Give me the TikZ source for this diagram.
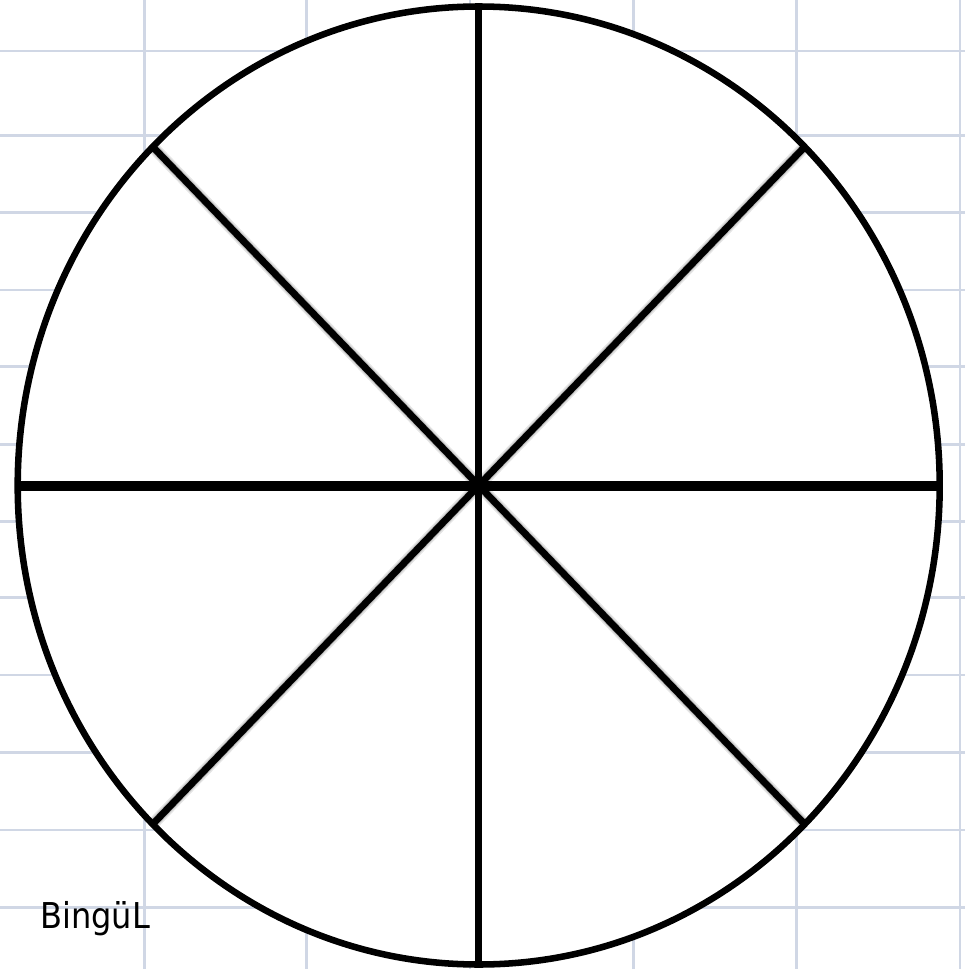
\documentclass[tikz,border=0pt]{standalone}
\usepackage{fontspec}
\setmainfont{DejaVu Sans}
\definecolor{gridc}{RGB}{208,215,229}
\begin{document}
\begin{tikzpicture}[x=0.75pt,y=-0.75pt,
  gridline/.style={draw=gridc,line width=1.9pt},
  rim/.style={draw=black,line width=4.9pt},
  spoke/.style={draw=black,line width=5.2pt},
  thickspoke/.style={draw=black,line width=8pt},
  shade/.style={draw=black,line width=#1,opacity=0.10}]
\useasboundingbox (0,0) rectangle (965,969);
\fill[white] (0,0) rectangle (965,969);
% spreadsheet grid
\foreach \x in {144.3,306.7,470,633.3,796.7,960}
  \draw[gridline] (\x,0) -- (\x,969);
\foreach \y in {51,135.7,212.3,290,366.7,444.3,521.3,597.7,675,752.7,830,907.3}
  \draw[gridline] (0,\y) -- (965,\y);
% points
\coordinate (c) at (478.7,485.5);
\coordinate (top) at (478.7,6.5);
\coordinate (bot) at (478.7,964.5);
\coordinate (lft) at (17.7,486);
\coordinate (rgt) at (939.7,486);
\coordinate (tl) at (152.7,146.8);
\coordinate (tr) at (804.7,146.8);
\coordinate (bl) at (152.7,824.2);
\coordinate (br) at (804.7,824.2);
% disc
\fill[white] (c) ellipse [x radius=461, y radius=479];
% shadows of diagonals
\foreach \p in {tl,tr,bl,br}{
  \begin{scope}[shift={(0,3)}]
    \draw[shade=9pt] (c) -- (\p);
    \draw[shade=7pt] (c) -- (\p);
    \draw[shade=6pt] (c) -- (\p);
  \end{scope}
}
% spokes
\draw[spoke] (c) -- (tl);
\draw[spoke] (c) -- (tr);
\draw[spoke] (c) -- (bl);
\draw[spoke] (c) -- (br);
\draw[spoke] (top) -- (bot);
\draw[thickspoke] (lft) -- (rgt);
% rim
\draw[rim] (c) ellipse [x radius=461, y radius=479];
% signature
\node[anchor=base west,inner sep=0pt,font=\fontsize{26.7}{30}\selectfont] (sig) at (40,928) {\scalebox{0.9}[1]{BingüL}};
\end{tikzpicture}
\end{document}
